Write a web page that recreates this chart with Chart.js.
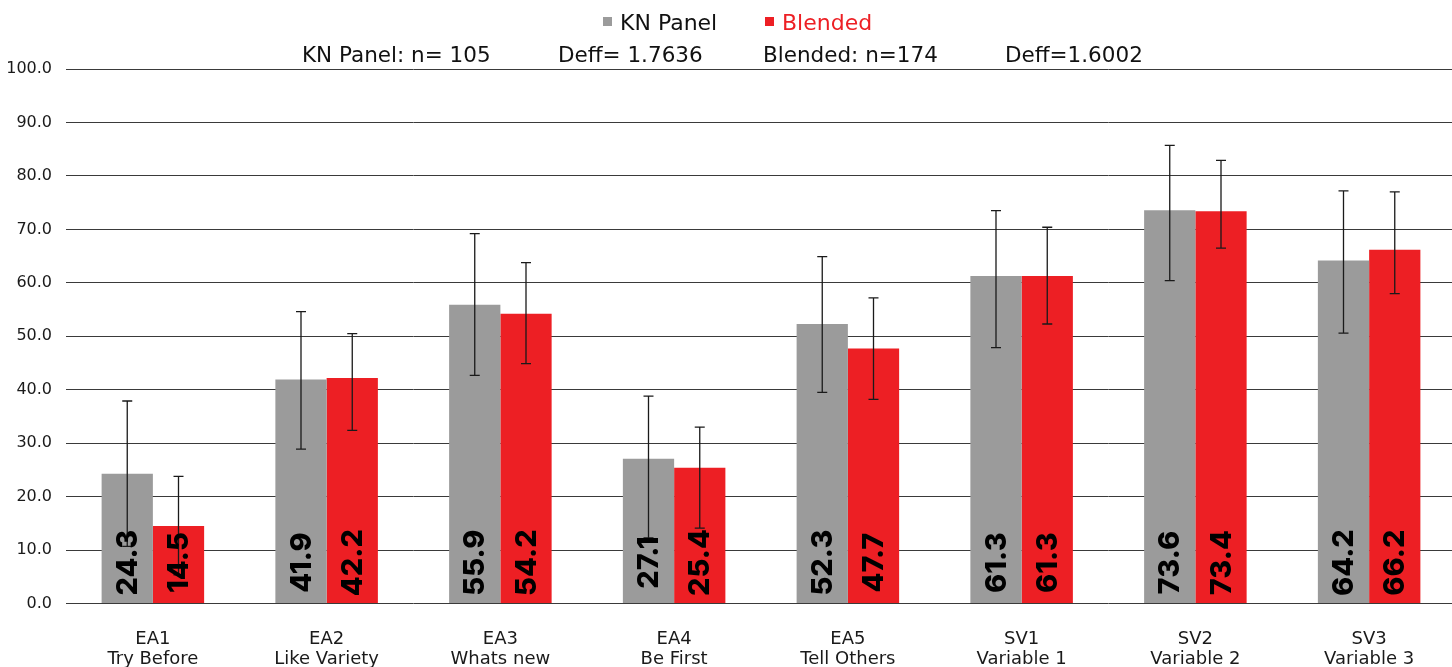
<!DOCTYPE html>
<html>
<head>
<meta charset="utf-8">
<script src="https://cdn.jsdelivr.net/npm/chart.js@4.4.1/dist/chart.umd.min.js"></script>
<style>
  html, body { margin: 0; padding: 0; background: #ffffff; overflow: hidden; }
  #wrap { position: relative; width: 1456px; height: 695px; }
</style>
</head>
<body>
<div id="wrap"><canvas id="c"></canvas></div>
<script>
// ---- data ----
const codes = ['EA1', 'EA2', 'EA3', 'EA4', 'EA5', 'SV1', 'SV2', 'SV3'];
const names = ['Try Before', 'Like Variety', 'Whats new', 'Be First', 'Tell Others', 'Variable 1', 'Variable 2', 'Variable 3'];
const seriesNames = ['KN Panel', 'Blended'];
const knPanel = [24.3, 41.9, 55.9, 27.1, 52.3, 61.3, 73.6, 64.2];
const blended = [14.5, 42.2, 54.2, 25.4, 47.7, 61.3, 73.4, 66.2];
const knLow = [10.7, 28.9, 42.7, 12.3, 39.5, 47.9, 60.4, 50.6];
const knHigh = [37.9, 54.6, 69.2, 38.8, 64.9, 73.5, 85.7, 77.2];
const blLow = [5.4, 32.4, 44.9, 14.1, 38.2, 52.3, 66.5, 58.0];
const blHigh = [23.8, 50.5, 63.8, 33.0, 57.2, 70.4, 82.9, 77.0];
const statsTexts = ['KN Panel: n= 105', 'Deff= 1.7636', 'Blended: n=174', 'Deff=1.6002'];
const yMin = 0, yMax = 100, yStep = 10;

const GRAY = '#9b9b9b';
const RED = '#ed1f24';
const FONT = '"DejaVu Sans", sans-serif';
const BOLDFONT = 'Inter, "DejaVu Sans", sans-serif';

const categoryLabels = codes.map((c, i) => [c, names[i]]);
const errLows = [knLow, blLow];
const errHighs = [knHigh, blHigh];

const errorAndLabels = {
  id: 'errorAndLabels',
  afterDatasetsDraw(chart) {
    const ctx = chart.ctx;
    const y = chart.scales.y;
    const y0 = y.getPixelForValue(0);
    // error bars
    chart.data.datasets.forEach((ds, di) => {
      const meta = chart.getDatasetMeta(di);
      meta.data.forEach((bar, j) => {
        const yl = y.getPixelForValue(errLows[di][j]);
        const yh = y.getPixelForValue(errHighs[di][j]);
        ctx.save();
        ctx.strokeStyle = '#1a1a1a';
        ctx.lineWidth = 1.3;
        ctx.beginPath();
        ctx.moveTo(bar.x, yl); ctx.lineTo(bar.x, yh);
        ctx.moveTo(bar.x - 5, yl); ctx.lineTo(bar.x + 5, yl);
        ctx.moveTo(bar.x - 5, yh); ctx.lineTo(bar.x + 5, yh);
        ctx.stroke();
        ctx.restore();
      });
    });
    // value labels
    chart.data.datasets.forEach((ds, di) => {
      const meta = chart.getDatasetMeta(di);
      meta.data.forEach((bar, j) => {
        ctx.save();
        ctx.translate(bar.x + 1, y0 - 41);
        ctx.rotate(-Math.PI / 2);
        ctx.font = '800 29px ' + BOLDFONT;
        ctx.fillStyle = '#000000';
        ctx.textAlign = 'center';
        ctx.textBaseline = 'middle';
        ctx.fillText(ds.data[j].toFixed(1), 0, 0);
        ctx.restore();
      });
    });
  }
};

const headerPlugin = {
  id: 'header',
  afterDraw(chart) {
    const ctx = chart.ctx;
    ctx.save();
    // legend
    const legendItems = [
      { x: 603, color: GRAY, textColor: '#111111' },
      { x: 765, color: RED, textColor: RED }
    ];
    ctx.font = '22px ' + FONT;
    ctx.textBaseline = 'middle';
    ctx.textAlign = 'left';
    chart.data.datasets.forEach((ds, i) => {
      const it = legendItems[i];
      ctx.fillStyle = it.color;
      ctx.fillRect(it.x, 17, 9, 9);
      ctx.fillStyle = it.textColor;
      ctx.fillText(ds.label, it.x + 17, 24);
    });
    // stats line
    const statX = [302, 558, 763, 1005];
    ctx.fillStyle = '#111111';
    ctx.font = '21.5px ' + FONT;
    statsTexts.forEach((t, i) => ctx.fillText(t, statX[i], 56));
    ctx.restore();
  }
};

new Chart(document.getElementById('c'), {
  type: 'bar',
  data: {
    labels: categoryLabels,
    datasets: [
      { label: seriesNames[0], data: knPanel, backgroundColor: GRAY },
      { label: seriesNames[1], data: blended, backgroundColor: RED }
    ]
  },
  options: {
    responsive: true,
    maintainAspectRatio: false,
    animation: false,
    layout: { padding: { top: 69, right: 0, left: 0, bottom: 0 } },
    datasets: { bar: { barPercentage: 1.0, categoryPercentage: 0.59 } },
    plugins: {
      legend: { display: false },
      title: { display: false },
      tooltip: { enabled: false }
    },
    scales: {
      x: {
        grid: { display: false, drawTicks: false },
        border: { display: false },
        ticks: { color: '#1a1a1a', font: { family: FONT, size: 18, lineHeight: 1.15 }, padding: 25, maxRotation: 0, autoSkip: false }
      },
      y: {
        min: yMin, max: yMax,
        afterFit(s) { s.width = 66; },
        grid: { color: '#3a3a3a', lineWidth: 1, drawTicks: false },
        border: { display: false },
        ticks: {
          stepSize: yStep,
          color: '#1a1a1a',
          font: { family: FONT, size: 16 },
          padding: 14,
          callback: v => v.toFixed(1)
        }
      }
    }
  },
  plugins: [errorAndLabels, headerPlugin]
});
</script>
</body>
</html>
